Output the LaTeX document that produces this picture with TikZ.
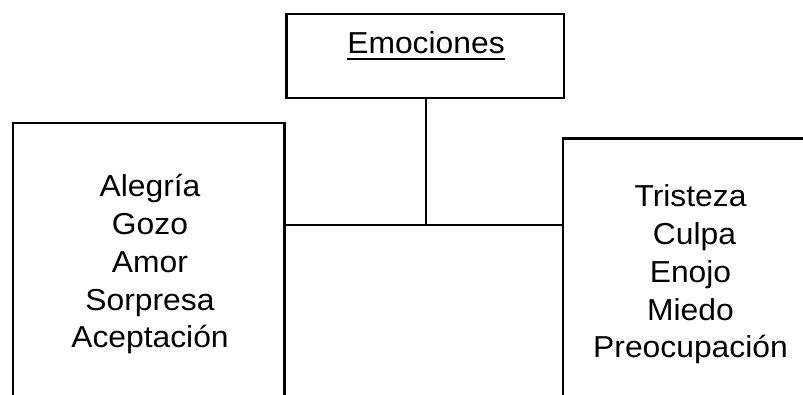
\documentclass[tikz,border=0pt]{standalone}
\usepackage{fontspec}
\newfontfamily\arialx{Liberation Sans}[FakeStretch=1.05]
\begin{document}
\begin{tikzpicture}[x=1pt,y=1pt,
  box/.style={draw=black, line width=2.4pt, rectangle, inner sep=0pt, outer sep=0pt, fill=none},
  txt/.style={font=\arialx\fontsize{30.3}{37.8}\selectfont, align=center, inner sep=0pt, outer sep=0pt},
  conn/.style={draw=black, line width=1.2pt},
  hconn/.style={draw=black, line width=2.2pt}]
\clip (0,0) rectangle (803,-394);
\fill[white] (0,0) rectangle (803,-394);
% boxes
\node[box, minimum width=277.5pt, minimum height=84pt] (top) at (425.25,-56) {};
\node[box, minimum width=271.5pt, minimum height=307pt] (lbox) at (148.75,-276.5) {};
\node[box, minimum width=267pt, minimum height=291.5pt] (rbox) at (696.5,-284.25) {};
% texts (base anchor = baseline of last line)
\node[txt, anchor=base] (emo) at (426,-53.3) {Emociones};
\draw[line width=2.4pt] ([yshift=-5.7pt]emo.base west) -- ([yshift=-5.7pt]emo.base east);
\node[txt, anchor=base] (ltext) at (150,-347.9) {Alegría\\Gozo\\Amor\\Sorpresa\\Aceptación};
\node[txt, anchor=base] (rtext) at (690.5,-357.9) {Tristeza\\\hspace*{8pt}Culpa\\Enojo\hspace*{6pt}\\Miedo\\Preocupación};
% connectors
\coordinate (hub) at (426,-225.3);
\draw[conn] (top.south -| hub) -- (hub);
\draw[hconn] (lbox.east |- hub) -- (rbox.west |- hub);
\end{tikzpicture}
\end{document}
